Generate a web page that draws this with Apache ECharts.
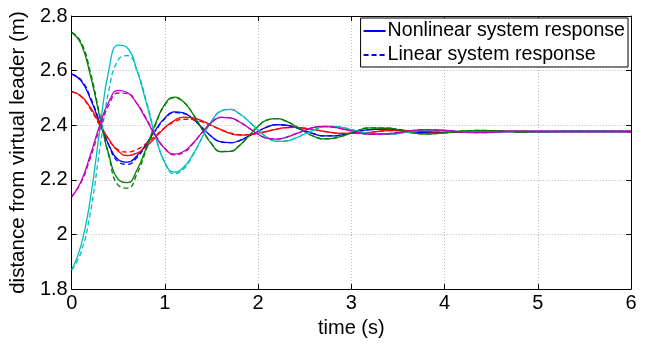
<!DOCTYPE html>
<html>
<head>
<meta charset="utf-8">
<script src="https://cdn.jsdelivr.net/npm/echarts@6/dist/echarts.min.js"></script>
<style>
html,body{margin:0;padding:0;background:#fff;}
#c{width:646px;height:343px;}
</style>
</head>
<body>
<div id="c"></div>
<script>
// time samples (s)
const time = [0,0.1,0.2,0.3,0.4,0.5,0.6,0.7,0.8,0.9,1.0,1.1,1.2,1.3,1.4,1.5,1.6,1.7,1.8,1.9,2.0,2.1,2.2,2.3,2.4,2.5,2.6,2.7,2.8,2.9,3.0,3.2,3.4,3.6,3.8,4.0,4.2,4.4,4.6,4.8,5.0,5.5,6.0];

// blue
const blueNonlinear = [2.587,2.563,2.497,2.409,2.327,2.274,2.265,2.288,2.332,2.383,2.427,2.449,2.445,2.423,2.391,2.359,2.339,2.336,2.344,2.360,2.378,2.394,2.402,2.400,2.392,2.380,2.368,2.361,2.361,2.365,2.372,2.384,2.386,2.380,2.373,2.373,2.377,2.379,2.378,2.377,2.377,2.377,2.377];
const blueLinear    = [2.587,2.566,2.503,2.412,2.325,2.266,2.257,2.282,2.328,2.380,2.424,2.446,2.443,2.422,2.391,2.359,2.339,2.336,2.344,2.360,2.378,2.394,2.402,2.400,2.392,2.380,2.368,2.361,2.361,2.365,2.372,2.384,2.386,2.380,2.373,2.373,2.377,2.379,2.378,2.377,2.377,2.377,2.377];
// red
const redNonlinear  = [2.523,2.507,2.465,2.406,2.348,2.305,2.289,2.298,2.322,2.356,2.391,2.417,2.430,2.427,2.416,2.400,2.384,2.370,2.364,2.365,2.371,2.378,2.386,2.391,2.392,2.389,2.384,2.378,2.373,2.370,2.370,2.374,2.380,2.380,2.377,2.375,2.376,2.378,2.378,2.377,2.377,2.377,2.377];
const redLinear     = [2.523,2.505,2.460,2.400,2.345,2.310,2.302,2.311,2.333,2.362,2.392,2.412,2.422,2.421,2.412,2.398,2.384,2.372,2.366,2.366,2.371,2.378,2.386,2.391,2.392,2.389,2.384,2.378,2.373,2.370,2.370,2.374,2.380,2.380,2.377,2.375,2.376,2.378,2.378,2.377,2.377,2.377,2.377];
// green
const greenNonlinear= [2.740,2.698,2.583,2.432,2.290,2.202,2.190,2.236,2.317,2.407,2.477,2.503,2.486,2.442,2.384,2.332,2.303,2.304,2.326,2.361,2.396,2.420,2.424,2.415,2.397,2.376,2.359,2.350,2.352,2.360,2.372,2.390,2.389,2.375,2.368,2.372,2.379,2.381,2.378,2.375,2.376,2.378,2.377];
const greenLinear   = [2.740,2.705,2.595,2.440,2.285,2.180,2.170,2.222,2.310,2.403,2.474,2.500,2.485,2.442,2.385,2.333,2.304,2.304,2.326,2.361,2.396,2.420,2.424,2.415,2.397,2.376,2.359,2.350,2.352,2.360,2.372,2.390,2.389,2.375,2.368,2.372,2.379,2.381,2.378,2.375,2.376,2.378,2.377];
// cyan
const cyanNonlinear = [1.870,1.960,2.130,2.380,2.605,2.693,2.682,2.601,2.482,2.357,2.263,2.228,2.246,2.293,2.356,2.415,2.452,2.458,2.442,2.414,2.382,2.355,2.341,2.342,2.353,2.368,2.383,2.394,2.396,2.392,2.384,2.370,2.367,2.375,2.382,2.381,2.376,2.374,2.376,2.378,2.377,2.377,2.377];
const cyanLinear    = [1.870,1.935,2.080,2.310,2.530,2.640,2.655,2.600,2.490,2.362,2.262,2.222,2.240,2.290,2.354,2.414,2.452,2.458,2.442,2.414,2.382,2.355,2.341,2.342,2.353,2.368,2.383,2.394,2.396,2.392,2.384,2.370,2.367,2.375,2.382,2.381,2.376,2.374,2.376,2.378,2.377,2.377,2.377];
// magenta
const magentaNonlinear = [2.138,2.194,2.291,2.399,2.487,2.528,2.519,2.479,2.421,2.360,2.314,2.294,2.304,2.334,2.374,2.410,2.429,2.427,2.412,2.390,2.367,2.352,2.349,2.356,2.368,2.381,2.392,2.396,2.393,2.387,2.379,2.367,2.369,2.378,2.384,2.381,2.375,2.373,2.376,2.378,2.377,2.377,2.377];
const magentaLinear    = [2.138,2.190,2.280,2.385,2.475,2.518,2.516,2.480,2.425,2.363,2.315,2.292,2.300,2.332,2.374,2.410,2.429,2.427,2.412,2.390,2.367,2.352,2.349,2.356,2.368,2.381,2.392,2.396,2.393,2.387,2.379,2.367,2.369,2.378,2.384,2.381,2.375,2.373,2.376,2.378,2.377,2.377,2.377];

const xTicks = ['0','1','2','3','4','5','6'];
const yTicks = ['1.8','2','2.2','2.4','2.6','2.8'];
const legendNames = ['Nonlinear system response','Linear system response'];

const FONT = 'Liberation Sans, Arial, Helvetica, sans-serif';
function pairs(vals){ return time.map((t,i)=>[t, vals[i]]); }
function mk(name, vals, color, dashed){
  return {
    name: name, type: 'line', data: pairs(vals), smooth: 0.5,
    showSymbol: false, symbol: 'none', animation: false,
    lineStyle: { color: color, width: 1.3, type: dashed ? [5,3] : 'solid' },
    itemStyle: { color: color },
    emphasis: { disabled: true }
  };
}
const C = { b:'#0000ff', r:'#ff0000', g:'#008000', c:'#00bfbf', m:'#bf00bf' };

const series = [
  mk(legendNames[0], blueNonlinear, C.b, false),
  mk(legendNames[1], blueLinear, C.b, true),
  mk('r_n', redNonlinear, C.r, false),
  mk('r_l', redLinear, C.r, true),
  mk('g_n', greenNonlinear, C.g, false),
  mk('g_l', greenLinear, C.g, true),
  mk('c_n', cyanNonlinear, C.c, false),
  mk('c_l', cyanLinear, C.c, true),
  mk('m_n', magentaNonlinear, C.m, false),
  mk('m_l', magentaLinear, C.m, true)
];

const axisCommon = {
  axisLine: { show: true, onZero: false, lineStyle: { color: '#000', width: 1 } },
  axisTick: { show: true, inside: true, length: 5, lineStyle: { color: '#000' } }
};

const chart = echarts.init(document.getElementById('c'), null, { renderer: 'canvas' });
chart.setOption({
  animation: false,
  backgroundColor: '#fff',
  grid: { left: 65, right: 15, top: 16, bottom: 39 },
  legend: {
    data: legendNames,
    orient: 'vertical', right: 18, top: 18,
    backgroundColor: '#fff', borderColor: '#000', borderWidth: 1,
    padding: [2, 3, 1, 2], itemGap: 2, itemWidth: 22, itemHeight: 14,
    itemStyle: { opacity: 0 },
    inactiveColor: '#0000ff',
    textStyle: { fontFamily: FONT, fontSize: 19.6, color: '#000', lineHeight: 22, padding: [0, 0, 0, -3] }
  },
  xAxis: [
    Object.assign({
      type: 'value', min: 0, max: 6, interval: 1, position: 'bottom',
      name: 'time (s)', nameLocation: 'middle', nameGap: 22,
      nameTextStyle: { fontFamily: FONT, fontSize: 20, color: '#000', verticalAlign: 'top' },
      axisLabel: { fontFamily: FONT, fontSize: 20, color: '#000', margin: 4,
        formatter: v => xTicks[Math.round(v)] },
      splitLine: { show: true, lineStyle: { color: '#b8b8b8', type: [1, 2], width: 1 } }
    }, axisCommon),
    Object.assign({
      type: 'value', min: 0, max: 6, interval: 1, position: 'top',
      axisLabel: { show: false }, splitLine: { show: false }
    }, axisCommon)
  ],
  yAxis: [
    Object.assign({
      type: 'value', min: 1.8, max: 2.8, interval: 0.2, position: 'left',
      name: 'distance from virtual leader (m)', nameLocation: 'middle', nameGap: 34,
      nameTextStyle: { fontFamily: FONT, fontSize: 20.5, color: '#000' },
      axisLabel: { fontFamily: FONT, fontSize: 20, color: '#000', margin: 4,
        formatter: v => yTicks[Math.round((v - 1.8) / 0.2)] },
      splitLine: { show: true, lineStyle: { color: '#b8b8b8', type: [1, 2], width: 1 } }
    }, axisCommon),
    Object.assign({
      type: 'value', min: 1.8, max: 2.8, interval: 0.2, position: 'right',
      axisLabel: { show: false }, splitLine: { show: false }
    }, axisCommon)
  ],
  series: series
});
</script>
</body>
</html>
